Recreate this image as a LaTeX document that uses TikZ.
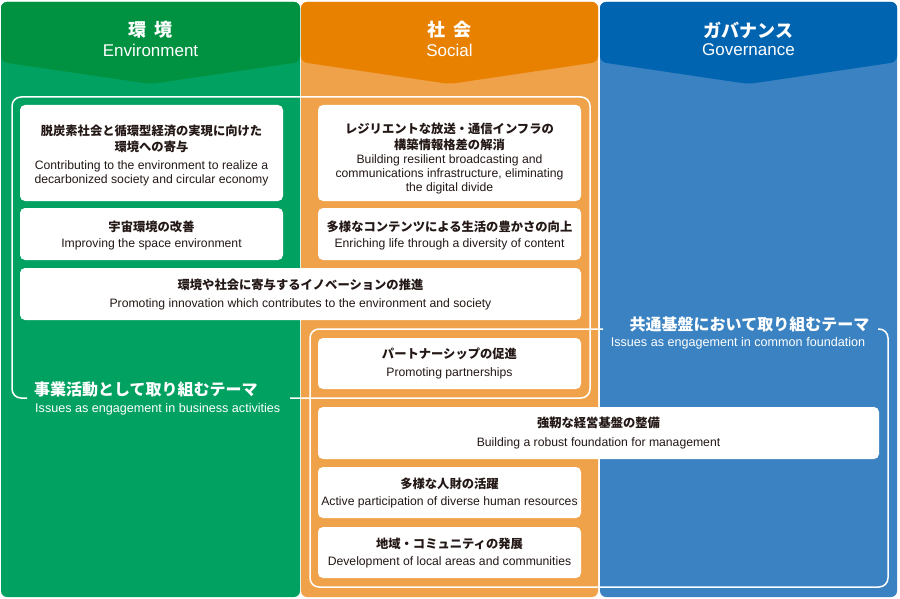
\documentclass[tikz,border=0pt]{standalone}
\usepackage{fontspec}
\setmainfont{Liberation Sans}
\newfontfamily\jp{Noto Sans CJK JP}
\definecolor{ghead}{RGB}{0,146,64}
\definecolor{gbody}{RGB}{0,161,97}
\definecolor{ohead}{RGB}{232,128,0}
\definecolor{obody}{RGB}{240,162,74}
\definecolor{bhead}{RGB}{0,100,176}
\definecolor{bbody}{RGB}{58,130,193}
\definecolor{txt}{RGB}{35,24,21}
\begin{document}
\begin{tikzpicture}[x=1pt,y=-1pt,
  box/.style={fill=white, rounded corners=5, inner sep=0, draw=none},
  jpt/.style={font=\jp\bfseries\fontsize{12.3}{15.5}\selectfont, text=txt, align=center, inner sep=0},
  ent/.style={font=\fontsize{12.2}{14}\selectfont, text=txt, align=center, inner sep=0},
  hjp/.style={font=\jp\bfseries\fontsize{18}{20}\selectfont, text=white, inner sep=0},
  hen/.style={font=\fontsize{17}{20}\selectfont, text=white, inner sep=0},
  tjp/.style={font=\jp\bfseries\fontsize{16}{18}\selectfont, text=white, inner sep=0},
  ten/.style={font=\fontsize{12.6}{14}\selectfont, text=white, inner sep=0},
  frame/.style={draw=white, line width=1.5pt, rounded corners=9}]
\useasboundingbox (0,0) rectangle (900,599);
% columns
\fill[gbody, rounded corners=6] (1,2) rectangle (300,597);
\fill[ghead, rounded corners=6] (1,62) -- (1,2) -- (300,2) -- (300,62) -- (150.5,84) -- cycle;
\fill[obody, rounded corners=6] (301,2) rectangle (598,597);
\fill[ohead, rounded corners=6] (301,62) -- (301,2) -- (598,2) -- (598,62) -- (449.5,84) -- cycle;
\fill[bbody, rounded corners=6] (600,2) rectangle (897,597);
\fill[bhead, rounded corners=6] (600,62) -- (600,2) -- (897,2) -- (897,62) -- (748.5,84) -- cycle;
% headers
\node[hjp] (h1j) at (150.5,30) {環\hspace{0.45em}境};
\node[hen] (h1e) at (150.5,50) {Environment};
\node[hjp] (h2j) at (449.5,30) {社\hspace{0.45em}会};
\node[hen] (h2e) at (449.5,50) {Social};
\node[hjp] (h3j) at (748.5,30) {ガバナンス};
\node[hen] (h3e) at (748.5,50) {Governance};
% frames
\coordinate (fa1) at (27,398);
\coordinate (fa2) at (290,398);
\draw[frame] (fa1) -| (12,97) -| (590,398) -- (fa2);
\coordinate (fb1) at (603,329);
\coordinate (fb2) at (878,329);
\draw[frame] (fb1) -| (310,587) -| (888,329) -- (fb2);
% frame labels
\node[tjp, anchor=west] (ta) at (34,389) {事業活動として取り組むテーマ};
\node[ten, anchor=west] (tae) at (35,409) {Issues as engagement in business activities};
\node[tjp] (tb) at (749.5,324) {共通基盤において取り組むテーマ};
\node[ten] (tbe) at (738,343) {Issues as engagement in common foundation};
% boxes
\node[box, minimum width=263, minimum height=96] (b1) at (151.5,153) {};
\node[jpt] (b1j) at (151.5,139) {脱炭素社会と循環型経済の実現に向けた\\環境への寄与};
\node[ent] (b1e) at (151.5,173) {Contributing to the environment to realize a\\decarbonized society and circular economy};
\node[box, minimum width=263, minimum height=52] (b2) at (151.5,234) {};
\node[jpt] (b2j) at (151.5,227) {宇宙環境の改善};
\node[ent] (b2e) at (151.5,244) {Improving the space environment};
\node[box, minimum width=263, minimum height=96] (b3) at (449.5,153) {};
\node[jpt] (b3j) at (449.5,137) {レジリエントな放送・通信インフラの\\構築情報格差の解消};
\node[ent] (b3e) at (449.5,174.5) {Building resilient broadcasting and\\communications infrastructure, eliminating\\the digital divide};
\node[box, minimum width=263, minimum height=52] (b4) at (449.5,234) {};
\node[jpt] (b4j) at (449.5,227) {多様なコンテンツによる生活の豊かさの向上};
\node[ent] (b4e) at (449.5,244) {Enriching life through a diversity of content};
\node[box, minimum width=561, minimum height=52] (b5) at (300.5,294) {};
\node[jpt] (b5j) at (300.5,285) {環境や社会に寄与するイノベーションの推進};
\node[ent] (b5e) at (300.5,304) {Promoting innovation which contributes to the environment and society};
\node[box, minimum width=263, minimum height=51] (b6) at (449.5,363.5) {};
\node[jpt] (b6j) at (449.5,354) {パートナーシップの促進};
\node[ent] (b6e) at (449.5,373) {Promoting partnerships};
\node[box, minimum width=561, minimum height=52] (b7) at (598.5,433) {};
\node[jpt] (b7j) at (598.5,423) {強靭な経営基盤の整備};
\node[ent] (b7e) at (598.5,443) {Building a robust foundation for management};
\node[box, minimum width=263, minimum height=51] (b8) at (449.5,492.5) {};
\node[jpt] (b8j) at (449.5,484) {多様な人財の活躍};
\node[ent] (b8e) at (449.5,502) {Active participation of diverse human resources};
\node[box, minimum width=263, minimum height=51] (b9) at (449.5,552.5) {};
\node[jpt] (b9j) at (449.5,544) {地域・コミュニティの発展};
\node[ent] (b9e) at (449.5,562) {Development of local areas and communities};
\end{tikzpicture}
\end{document}
